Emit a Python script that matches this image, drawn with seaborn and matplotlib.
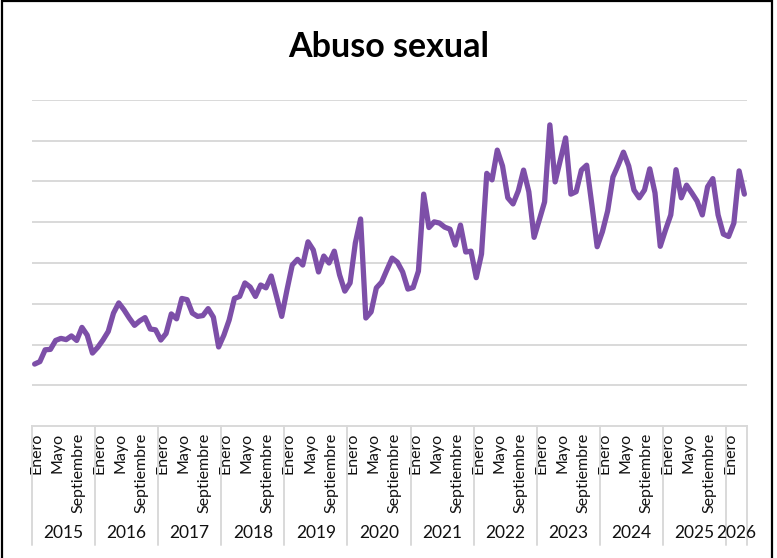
import matplotlib
matplotlib.use("Agg")
import matplotlib.pyplot as plt
import matplotlib.transforms as mtransforms
from matplotlib.patches import Rectangle
import numpy as np
import pandas as pd
import seaborn as sns

# Monthly values, Enero 2015 .. Abril 2026 (y axis has no labels)
anios = [2015, 2016, 2017, 2018, 2019, 2020, 2021, 2022, 2023, 2024, 2025, 2026]
meses = ["Enero", "Febrero", "Marzo", "Abril", "Mayo", "Junio", "Julio",
         "Agosto", "Septiembre", "Octubre", "Noviembre", "Diciembre"]
valores = [
    152, 158, 187, 188, 210, 215, 212, 221, 210, 242, 223, 179,  # 2015
    193, 211, 232, 277, 302, 285, 265, 247, 258, 266, 238, 236,  # 2016
    211, 227, 275, 263, 313, 310, 277, 269, 271, 288, 267, 194,  # 2017
    223, 260, 313, 318, 351, 341, 318, 346, 339, 368, 318, 269,  # 2018
    334, 395, 409, 395, 452, 432, 378, 417, 400, 429, 371, 331,  # 2019
    351, 449, 508, 265, 280, 339, 353, 383, 412, 402, 378, 336,  # 2020
    340, 380, 569, 487, 501, 498, 488, 483, 444, 493, 427, 429,  # 2021
    364, 422, 620, 604, 677, 638, 560, 545, 577, 628, 575, 463,  # 2022
    506, 550, 739, 599, 653, 707, 569, 575, 628, 640, 542, 440,  # 2023
    477, 528, 611, 640, 672, 638, 579, 560, 579, 631, 572, 441,  # 2024
    481, 518, 629, 560, 591, 572, 552, 518, 587, 607, 518, 471,  # 2025
    465, 498, 626, 569,                                          # 2026
]
etiquetas_mes = ["Enero", "Mayo", "Septiembre"]

W, H = 777, 558
df = pd.DataFrame({"idx": np.arange(len(valores)), "valor": valores})
df["anio"] = [anios[i // 12] for i in df["idx"]]
df["mes"] = [meses[i % 12] for i in df["idx"]]

sns.set_theme(style="white")
plt.rcParams["font.family"] = ["Lato", "DejaVu Sans"]

fig = plt.figure(figsize=(W / 100, H / 100), dpi=100)
ax = fig.add_axes([32 / W, 1 - 426 / H, (747 - 32) / W, (426 - 100) / H])

grid_col = "#D9D9D9"
for v in range(100, 801, 100):
    ax.axhline(v, color=grid_col, lw=1.4, zorder=0)

sns.lineplot(data=df, x="idx", y="valor", ax=ax, color="#7D4FA8",
             lw=3.8, solid_joinstyle="round", solid_capstyle="round", zorder=3)

n = len(valores)
ax.set_xlim(-0.5, n - 0.5)
ax.set_ylim(0, 800)
ax.set_yticks([])
ax.set_ylabel("")
ax.set_xlabel("")
for s in ["left", "right", "top"]:
    ax.spines[s].set_visible(False)
ax.spines["bottom"].set_color(grid_col)
ax.spines["bottom"].set_linewidth(1.4)

# month tick labels
ticks = [i for i in range(n) if meses[i % 12] in etiquetas_mes]
ax.set_xticks(ticks)
ax.set_xticklabels([meses[i % 12] for i in ticks], rotation=90, fontsize=11.5,
                   color="#111111", va="top", ha="center")
ax.tick_params(axis="x", length=0, pad=5)
shift = mtransforms.ScaledTranslation(2 / 100, 0, fig.dpi_scale_trans)
for lab in ax.get_xticklabels():
    lab.set_transform(lab.get_transform() + shift)

# year groups: separators and labels below the month labels
trans = mtransforms.blended_transform_factory(ax.transData, ax.transAxes)
sep_bottom = -(545 - 426) / (426 - 100)
year_y = -(533 - 426) / (426 - 100)
bounds = [-0.5 + 12 * k for k in range(len(anios))] + [n - 0.5]
for b in bounds:
    ax.plot([b, b], [0, sep_bottom], transform=trans, color=grid_col,
            lw=1.4, clip_on=False)
for k, a in enumerate(anios):
    x0, x1 = bounds[k], bounds[k + 1]
    ax.text((x0 + x1) / 2, year_y, str(a), transform=trans, ha="center",
            va="center", fontsize=12.5, color="#111111")

fig.text(0.5, 1 - 47 / H, "Abuso sexual", ha="center", va="center",
         fontsize=24.5, fontweight="bold", color="black")

# chart border
fig.add_artist(Rectangle((1.5 / W, -0.01), (772 - 1.5) / W, 1.0085,
                         transform=fig.transFigure, fill=False,
                         edgecolor="black", lw=1.6))

fig.savefig("out.png", dpi=100)
